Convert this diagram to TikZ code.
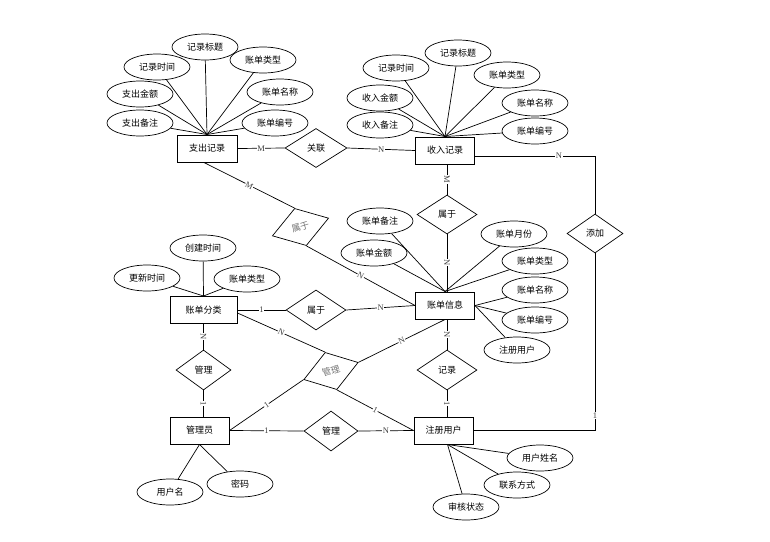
\documentclass[tikz,border=0pt]{standalone}
\usepackage{fontspec}
\setmainfont{Noto Sans CJK SC}
\newfontfamily\lblfont{Liberation Serif}
\usetikzlibrary{shapes.geometric}
\begin{document}
\begin{tikzpicture}[x=1pt,y=-1pt,
 ent/.style={draw, line width=1pt, minimum width=59pt, minimum height=27pt, inner sep=0pt, font=\fontsize{9}{10}\selectfont},
 attr/.style={draw, ellipse, line width=0.7pt, minimum width=66pt, minimum height=26pt, inner sep=0pt, font=\fontsize{9}{10}\selectfont},
 rel/.style={draw, diamond, line width=0.7pt, minimum width=60pt, minimum height=40pt, inner sep=0pt, font=\fontsize{9}{10}\selectfont},
 tilt/.style={rel, rotate=17.5, minimum width=59pt, minimum height=39pt, text=black!55},
 ln/.style={line width=0.7pt},
 card/.style={font=\lblfont\fontsize{8.5}{8.5}\selectfont, text=black!75, fill=white, inner sep=0.5pt}
]
\useasboundingbox (0,0) rectangle (770,541);

% entities
\node[ent, minimum width=60pt] (zc) at (207,148.5) {支出记录};
\node[ent] (sr) at (445,150.5) {收入记录};
\node[ent, minimum width=67pt] (fl) at (203.5,310) {账单分类};
\node[ent] (xx) at (445,305.5) {账单信息};
\node[ent] (gly) at (199.5,430.5) {管理员};
\node[ent] (yh) at (443.5,430.5) {注册用户};

% relationships
\node[rel, minimum width=62pt, minimum height=39pt] (r1) at (316,148) {关联};
\node[rel, minimum height=39pt] (r2) at (447,214.5) {属于};
\node[tilt] (r3) at (300.5,227) {属于};
\node[rel] (r4) at (316,310) {属于};
\node[rel, minimum width=56pt, minimum height=39pt] (r5) at (595,233.5) {添加};
\node[rel, minimum width=55pt] (r6) at (203.5,370) {管理};
\node[tilt, minimum width=57pt] (r7) at (331,371) {管理};
\node[rel] (r8) at (447,370) {记录};
\node[rel, minimum width=54pt] (r9) at (331,431) {管理};

% attributes of 支出记录
\node[attr] (a1) at (157,67) {记录时间};
\node[attr] (a2) at (205,47) {记录标题};
\node[attr] (a3) at (263,60) {账单类型};
\node[attr] (a4) at (140,94) {支出金额};
\node[attr] (a5) at (280,92) {账单名称};
\node[attr] (a6) at (140,123) {支出备注};
\node[attr] (a7) at (275,123) {账单编号};
\foreach \a in {a1,a2,a3,a4,a5,a6,a7} \draw[ln] (\a) -- (zc.north);

% attributes of 收入记录
\node[attr] (b1) at (396,68) {记录时间};
\node[attr] (b2) at (458,53) {记录标题};
\node[attr] (b3) at (507,75) {账单类型};
\node[attr] (b4) at (380,98) {收入金额};
\node[attr] (b5) at (535,103) {账单名称};
\node[attr] (b6) at (380,125) {收入备注};
\node[attr] (b7) at (535,131) {账单编号};
\foreach \a in {b1,b2,b3,b4,b5,b6,b7} \draw[ln] (\a) -- (sr.north);

% attributes of 账单分类
\node[attr] (c1) at (203,248) {创建时间};
\node[attr] (c2) at (147,278) {更新时间};
\node[attr] (c3) at (247,279) {账单类型};
\foreach \a in {c1,c2,c3} \draw[ln] (\a) -- (fl.north);

% attributes of 账单信息
\node[attr] (d1) at (380,221) {账单备注};
\node[attr] (d2) at (374,253) {账单金额};
\node[attr] (d3) at (514,234) {账单月份};
\node[attr] (d4) at (535,261) {账单类型};
\node[attr] (d5) at (535,290) {账单名称};
\node[attr] (d6) at (535,320) {账单编号};
\node[attr] (d7) at (517,350) {注册用户};
\foreach \a in {d1,d2,d3,d4} \draw[ln] (\a) -- (xx.north);
\foreach \a in {d5,d6,d7} \draw[ln] (\a) -- (xx.east);

% attributes of 管理员
\node[attr] (e1) at (170,492) {用户名};
\node[attr] (e2) at (240,484) {密码};
\foreach \a in {e1,e2} \draw[ln] (\a) -- (gly.south);

% attributes of 注册用户
\node[attr] (f1) at (540,458) {用户姓名};
\node[attr] (f2) at (517,485) {联系方式};
\node[attr] (f3) at (466,507) {审核状态};
\foreach \a in {f1,f2,f3} \draw[ln] (\a) -- ([xshift=4pt]yh.south);

% relationship connectors
\draw[ln] (zc.east) -- node[card] {M} (r1.west);
\draw[ln] (r1.east) -- node[card] {N} (sr.west);
\draw[ln] (r2.north |- sr.south) -- node[card, sloped] {M} (r2.north);
\draw[ln] (r2.south) -- node[card, sloped] {N} (r2.south |- xx.north);
\draw[ln] ([xshift=-3pt]zc.south) -- node[card, sloped] {M} (r3.north);
\draw[ln] (r3.south) -- node[card, sloped] {N} (xx.west);
\draw[ln] (fl.east) -- node[card] {1} (r4.west);
\draw[ln] (r4.east) -- node[card] {N} (xx.west);
\draw[ln] ([yshift=-3pt]fl.east) -- node[card, sloped] {N} (r7.north);
\draw[ln] (r7.south) -- node[card, sloped] {1} (yh.west);
\draw[ln] (r7.west) -- node[card, sloped] {1} (gly.east);
\draw[ln] (r7.east) -- node[card, sloped] {N} (xx.south);
\draw[ln] (r6.north |- fl.south) -- node[card, sloped] {N} (r6.north);
\draw[ln] (r6.south) -- node[card, sloped] {1} (r6.south |- gly.north);
\draw[ln] (gly.east) -- node[card] {1} (r9.west);
\draw[ln] (r9.east) -- node[card] {N} (yh.west);
\draw[ln] (r8.north |- xx.south) -- node[card, sloped] {N} (r8.north);
\draw[ln] (r8.south) -- node[card, sloped] {1} (r8.south |- yh.north);
\draw[ln] ([yshift=-5.5pt]sr.east) -| node[card, pos=0.35] {N} (r5.north);
\draw[ln] (yh.east) -| node[card, pos=0.542] {1} (r5.south);
\end{tikzpicture}
\end{document}
